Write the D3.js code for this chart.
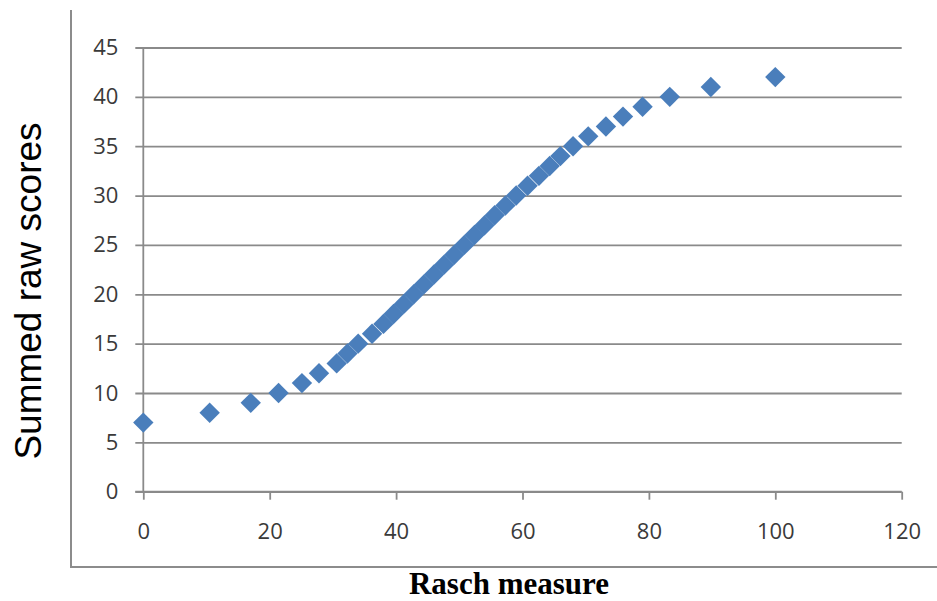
<!DOCTYPE html>
<html>
<head>
<meta charset="utf-8">
<script src="https://cdn.jsdelivr.net/npm/d3@7"></script>
<style>
  html, body { margin: 0; padding: 0; background: #fff; }
  svg { display: block; }
</style>
</head>
<body>
<svg id="chart" width="937" height="601"></svg>
<script>
// Data
const summedRawScores = [7, 8, 9, 10, 11, 12, 13, 14, 15, 16, 17, 18, 19, 20, 21, 22, 23, 24,
  25, 26, 27, 28, 29, 30, 31, 32, 33, 34, 35, 36, 37, 38, 39, 40, 41, 42];
const raschMeasures = [0, 10.5, 17.0, 21.4, 25.1, 27.8, 30.6, 32.3, 34.0, 36.2, 38.0, 39.6, 41.2, 42.8,
  44.4, 46.0, 47.6, 49.2, 50.8, 52.4, 54.0, 55.6, 57.3, 59.0, 60.8, 62.6, 64.3, 66.0, 68.0,
  70.4, 73.2, 75.9, 79.0, 83.3, 89.8, 100];
const xTicks = [0, 20, 40, 60, 80, 100, 120];
const yTicks = [0, 5, 10, 15, 20, 25, 30, 35, 40, 45];
const xTitle = "Rasch measure";
const yTitle = "Summed raw scores";

const svg = d3.select("#chart");
const pLeft = 143.3, pRight = 901.7, pTop = 47.5, pBottom = 491.7;

const x = d3.scaleLinear().domain([0, 120]).range([pLeft, pRight]);
const y = d3.scaleLinear().domain([0, 45]).range([pBottom, pTop]);

const axisColor = "#8a8a8a";
const labelFont = "'Open Sans', 'Liberation Sans', sans-serif";
const labelSize = 22;

// Outer frame (left and bottom)
svg.append("path")
  .attr("d", "M71,10 L71,567 L937,567")
  .attr("fill", "none").attr("stroke", "#8c8c8c").attr("stroke-width", 2);

// Y gridlines + axis
const yAxis = d3.axisLeft(y).tickValues(yTicks)
  .tickSize(-(pRight - pLeft)).tickSizeOuter(0).tickPadding(25);
const gy = svg.append("g").attr("transform", `translate(${pLeft},0)`).call(yAxis);
gy.select(".domain").remove();
gy.selectAll(".tick line")
  .attr("x1", -8)
  .attr("stroke", axisColor).attr("stroke-width", 1.8);
gy.selectAll(".tick text")
  .attr("font-family", labelFont).attr("font-size", labelSize).attr("fill", "#3a3a3a");

// Y axis line
svg.append("line")
  .attr("x1", pLeft).attr("x2", pLeft).attr("y1", pTop).attr("y2", pBottom)
  .attr("stroke", axisColor).attr("stroke-width", 1.8);

// X axis
const xAxis = d3.axisBottom(x).tickValues(xTicks).tickSize(8).tickSizeOuter(0).tickPadding(24);
const gx = svg.append("g").attr("transform", `translate(0,${pBottom})`).call(xAxis);
gx.select(".domain").attr("stroke", axisColor).attr("stroke-width", 1.8)
  .attr("d", `M${pLeft - 8},0H${pRight}`);
gx.selectAll(".tick line").attr("stroke", axisColor).attr("stroke-width", 1.8);
gx.selectAll(".tick text")
  .attr("font-family", labelFont).attr("font-size", labelSize).attr("fill", "#3a3a3a");

// Points (diamonds)
const pts = summedRawScores.map((s, i) => ({ s, m: raschMeasures[i] }));
const diamond = d3.symbol().type(d3.symbolDiamond2).size(265);
svg.append("g").selectAll("path").data(pts).join("path")
  .attr("d", diamond)
  .attr("transform", d => `translate(${x(d.m)},${y(d.s)})`)
  .attr("fill", "#4a7ebb");

// Titles
svg.append("text")
  .attr("x", 509).attr("y", 594)
  .attr("text-anchor", "middle")
  .attr("font-family", "'Liberation Serif', 'Times New Roman', serif")
  .attr("font-weight", "bold").attr("font-size", 31)
  .attr("fill", "#000")
  .text(xTitle);

svg.append("text")
  .attr("transform", "translate(41,291) rotate(-90)")
  .attr("text-anchor", "middle")
  .attr("font-family", "'Liberation Sans', Arial, sans-serif")
  .attr("font-size", 37)
  .attr("fill", "#000")
  .text(yTitle);
</script>
</body>
</html>
